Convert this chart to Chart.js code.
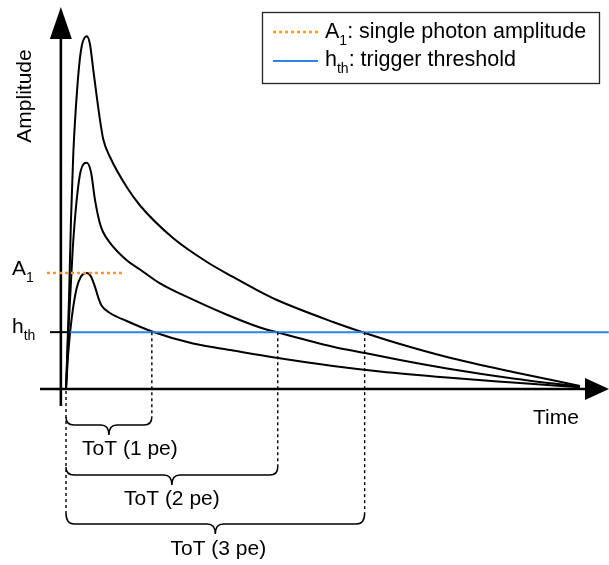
<!DOCTYPE html>
<html>
<head>
<meta charset="utf-8">
<script src="https://cdn.jsdelivr.net/npm/chart.js@4"></script>
<style>
  html, body { margin: 0; padding: 0; background: #fff; }
  #wrap { width: 609px; height: 565px; position: relative; }
</style>
</head>
<body>
<div id="wrap"><canvas id="tot"></canvas></div>
<script>
// Pulse shapes (time in arbitrary units, amplitude in units of A1)
const pulse1Time = [0, 0.49, 1.11, 2.08, 2.92, 4.03, 4.86, 5.64, 6.42, 6.91, 8.56, 11.81, 16.73, 24.71, 32.49, 41.25, 51.95, 61.09, 74.12, 86.96, 100];
const pulse1Amp  = [0, 0.34, 0.61, 0.87, 0.97, 1.00, 0.97, 0.88, 0.77, 0.72, 0.655, 0.586, 0.496, 0.392, 0.332, 0.267, 0.198, 0.151, 0.099, 0.056, 0.015];

const pulse2Time = [0, 0.58, 1.30, 2.08, 2.92, 4.03, 4.86, 5.64, 6.52, 7.14, 8.56, 11.81, 14.40, 18.29, 24.71, 31.32, 37.74, 41.25, 51.95, 58.17, 64.98, 74.12, 86.96, 100];
const pulse2Amp  = [0, 0.60, 1.20, 1.63, 1.89, 1.95, 1.87, 1.63, 1.44, 1.36, 1.26, 1.11, 1.03, 0.91, 0.77, 0.64, 0.53, 0.487, 0.365, 0.31, 0.25, 0.177, 0.091, 0.02];

const pulse3Time = [0, 0.58, 0.97, 1.42, 2.20, 2.92, 4.03, 4.67, 5.31, 6.61, 7.26, 8.56, 11.81, 14.40, 20.82, 27.43, 32.49, 37.16, 41.05, 51.95, 58.17, 64.98, 74.12, 86.96, 100];
const pulse3Amp  = [0, 0.77, 1.46, 2.03, 2.60, 2.92, 3.04, 2.97, 2.75, 2.32, 2.15, 2.00, 1.741, 1.582, 1.302, 1.095, 0.966, 0.853, 0.767, 0.578, 0.483, 0.388, 0.276, 0.147, 0.026];

const A1 = 1.0;            // single photon amplitude
const hth = 0.49;          // trigger threshold
const a1LineTime = [-3.7, 10.9];
const thLineTime = [0.8, 105.6];
const crossTimes = [16.7, 41.2, 58.1];   // end of time over threshold, 1/2/3 pe
const totLabels = ['ToT (1 pe)', 'ToT (2 pe)', 'ToT (3 pe)'];

const legendSymbols = ['A', 'h'];
const legendSubs = ['1', 'th'];
const legendTexts = [': single photon amplitude', ': trigger threshold'];
const axisTitles = ['Time', 'Amplitude'];

const ORANGE = '#ff9a1f';
const BLUE = '#2686e6';
const FONT = "'Liberation Sans', Arial, sans-serif";

const toPts = (ts, as) => ts.map((t, i) => ({ x: t, y: as[i] }));

// draw "main" + subscript + rest, starting at x on the given baseline
function drawSubText(ctx, x, base, main, sub, rest, size) {
  ctx.font = size + 'px ' + FONT;
  ctx.textAlign = 'left';
  ctx.textBaseline = 'alphabetic';
  ctx.fillText(main, x, base);
  x += ctx.measureText(main).width;
  ctx.font = Math.round(size * 0.65) + 'px ' + FONT;
  ctx.fillText(sub, x, base + 7);
  x += ctx.measureText(sub).width;
  if (rest) {
    ctx.font = size + 'px ' + FONT;
    ctx.fillText(rest, x, base);
  }
}

function drawBrace(ctx, x1, x2, yTop, h1, h2, w) {
  const mid = (x1 + x2) / 2;
  const yh = yTop + h1;
  const yt = yh + h2;
  ctx.beginPath();
  ctx.moveTo(x1, yTop);
  ctx.quadraticCurveTo(x1, yh, x1 + w, yh);
  ctx.lineTo(mid - w, yh);
  ctx.quadraticCurveTo(mid, yh, mid, yt);
  ctx.quadraticCurveTo(mid, yh, mid + w, yh);
  ctx.lineTo(x2 - w, yh);
  ctx.quadraticCurveTo(x2, yh, x2, yTop);
  ctx.stroke();
}

const schematic = {
  id: 'schematic',
  beforeDatasetsDraw(chart) {
    const { ctx, scales: { x, y } } = chart;
    const y0 = y.getPixelForValue(0);
    const xa = x.getPixelForValue(-1);
    ctx.save();
    ctx.strokeStyle = '#000';
    ctx.fillStyle = '#000';
    ctx.lineWidth = 2.6;
    // time axis + arrow
    ctx.beginPath(); ctx.moveTo(40, y0); ctx.lineTo(588, y0); ctx.stroke();
    ctx.beginPath(); ctx.moveTo(585, y0 - 11); ctx.lineTo(609, y0); ctx.lineTo(585, y0 + 11); ctx.closePath(); ctx.fill();
    // amplitude axis + arrow
    ctx.beginPath(); ctx.moveTo(xa, y0 + 17); ctx.lineTo(xa, 36); ctx.stroke();
    ctx.beginPath(); ctx.moveTo(xa - 11, 39); ctx.lineTo(xa, 7); ctx.lineTo(xa + 11, 39); ctx.closePath(); ctx.fill();
    // threshold tick
    ctx.lineWidth = 2;
    const yth = y.getPixelForValue(hth);
    ctx.beginPath(); ctx.moveTo(50, yth); ctx.lineTo(71, yth); ctx.stroke();
    ctx.restore();
  },
  afterDraw(chart) {
    const { ctx, scales: { x, y } } = chart;
    const y0 = y.getPixelForValue(0);
    const yth = y.getPixelForValue(hth);
    const xs = x.getPixelForValue(0);
    ctx.save();
    ctx.strokeStyle = '#000';
    ctx.fillStyle = '#000';

    // dotted verticals
    const braceTops = [417, 467, 513];
    ctx.lineWidth = 1.4;
    ctx.setLineDash([3, 3]);
    ctx.beginPath(); ctx.moveTo(xs, y0 + 2); ctx.lineTo(xs, braceTops[2]); ctx.stroke();
    crossTimes.forEach((t, i) => {
      const xc = x.getPixelForValue(t);
      ctx.beginPath(); ctx.moveTo(xc, yth); ctx.lineTo(xc, braceTops[i]); ctx.stroke();
    });
    ctx.setLineDash([]);

    // braces + labels
    const h1 = [8, 8, 11];
    const labelY = [449, 499, 549];
    const labelDx = [21, 0, 3];
    ctx.lineWidth = 1.5;
    ctx.font = '21px ' + FONT;
    ctx.textAlign = 'center';
    ctx.textBaseline = 'middle';
    crossTimes.forEach((t, i) => {
      const xc = x.getPixelForValue(t);
      drawBrace(ctx, xs, xc, braceTops[i], h1[i], 10, 8);
      ctx.fillText(totLabels[i], (xs + xc) / 2 + labelDx[i], labelY[i]);
    });

    // axis titles
    ctx.fillText(axisTitles[0], 556, 418);
    ctx.save();
    ctx.translate(25, 96);
    ctx.rotate(-Math.PI / 2);
    ctx.fillText(axisTitles[1], 0, 0);
    ctx.restore();

    // level labels at the left
    drawSubText(ctx, 12, y.getPixelForValue(A1) + 2, legendSymbols[0], legendSubs[0], '', 21);
    drawSubText(ctx, 12, yth + 1, legendSymbols[1], legendSubs[1], '', 21);

    // legend box
    ctx.fillStyle = '#fff';
    ctx.fillRect(263, 12, 337, 71);
    ctx.strokeStyle = '#222';
    ctx.lineWidth = 1.3;
    ctx.strokeRect(262.5, 12.5, 337, 71);
    ctx.lineWidth = 2.5;
    ctx.strokeStyle = ORANGE;
    ctx.setLineDash([3, 3]);
    ctx.beginPath(); ctx.moveTo(273, 32); ctx.lineTo(318, 32); ctx.stroke();
    ctx.setLineDash([]);
    ctx.lineWidth = 2;
    ctx.strokeStyle = BLUE;
    ctx.beginPath(); ctx.moveTo(273, 61); ctx.lineTo(318, 61); ctx.stroke();
    ctx.fillStyle = '#000';
    drawSubText(ctx, 325, 38, legendSymbols[0], legendSubs[0], legendTexts[0], 21.5);
    drawSubText(ctx, 325, 66, legendSymbols[1], legendSubs[1], legendTexts[1], 21.5);
    ctx.restore();
  }
};

const pxPerTime = 5.14, pxPerAmp = 116, originX = 66, originY = 389;
const W = 609, H = 565;

const pulseStyle = {
  showLine: true, pointRadius: 0, borderColor: '#000', borderWidth: 2,
  cubicInterpolationMode: 'monotone', fill: false
};

new Chart(document.getElementById('tot').getContext('2d'), {
  type: 'scatter',
  data: {
    datasets: [
      { label: 'A1', data: toPts(a1LineTime, [A1, A1]), showLine: true, pointRadius: 0,
        borderColor: ORANGE, borderWidth: 2.5, borderDash: [3, 3] },
      { label: 'hth', data: toPts(thLineTime, [hth, hth]), showLine: true, pointRadius: 0,
        borderColor: BLUE, borderWidth: 2 },
      Object.assign({ label: '1 pe', data: toPts(pulse1Time, pulse1Amp) }, pulseStyle),
      Object.assign({ label: '2 pe', data: toPts(pulse2Time, pulse2Amp) }, pulseStyle),
      Object.assign({ label: '3 pe', data: toPts(pulse3Time, pulse3Amp) }, pulseStyle)
    ]
  },
  options: {
    responsive: true,
    maintainAspectRatio: false,
    animation: false,
    layout: { padding: 0 },
    scales: {
      x: { type: 'linear', display: false, min: -originX / pxPerTime, max: (W - originX) / pxPerTime },
      y: { type: 'linear', display: false, min: (originY - H) / pxPerAmp, max: originY / pxPerAmp }
    },
    plugins: {
      legend: { display: false },
      tooltip: { enabled: false }
    }
  },
  plugins: [schematic]
});
</script>
</body>
</html>
